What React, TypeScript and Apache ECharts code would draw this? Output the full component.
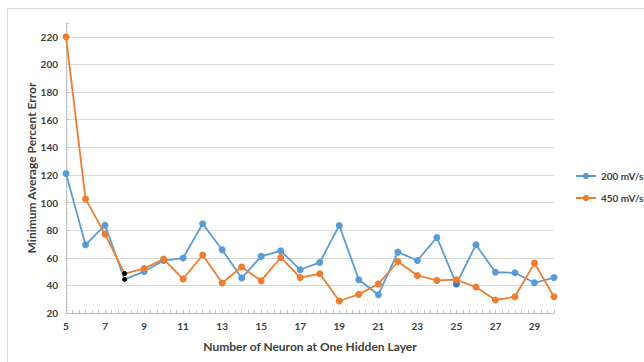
import React, { useEffect, useRef } from "react";
import * as echarts from "echarts";

const neurons = [5, 6, 7, 8, 9, 10, 11, 12, 13, 14, 15, 16, 17, 18, 19, 20, 21, 22, 23, 24, 25, 26, 27, 28, 29, 30];
const series200 = [121, 69.4, 83.6, 44.3, 50, 58, 59.8, 84.6, 65.8, 45.3, 61, 65, 51.3, 56.6, 83.4, 44.1, 33.2, 64.1, 58, 74.7, 41, 69.4, 49.5, 49.1, 41.9, 45.7];
const series450 = [220, 102.6, 77.1, 48.6, 52.2, 59, 44.6, 62, 41.7, 53.3, 43.4, 60.2, 45.7, 48.4, 28.7, 33.5, 41, 57.3, 47.2, 43.6, 44.1, 38.8, 29.4, 31.8, 56.1, 31.8];
const seriesNames = ["200 mV/s", "450 mV/s"];
const highlighted = [8];

const FONT = "Lato, 'Open Sans', sans-serif";
const TXT = "#404040";

function build(values: number[], special: (x: number) => any) {
  return neurons.map((x, i) => {
    const s = special(x);
    return s ? { value: [x, values[i]], ...s } : [x, values[i]];
  });
}

export default function App() {
  const ref = useRef<HTMLDivElement>(null);
  useEffect(() => {
    const chart = echarts.init(ref.current!, null, { renderer: "svg" });
    chart.setOption({
      animation: false,
      textStyle: { fontFamily: FONT },
      graphic: [
        {
          type: "rect",
          shape: { x: 7.5, y: 8.5, width: 700, height: 400 },
          style: { fill: "none", stroke: "#d9d9d9", lineWidth: 1 },
          silent: true,
        },
      ],
      grid: { left: 66, right: 90, top: 23, bottom: 49 },
      legend: {
        orient: "vertical",
        left: 575,
        top: 171,
        padding: 0,
        itemWidth: 20,
        itemHeight: 8,
        itemGap: 12,
        textStyle: { fontFamily: FONT, fontSize: 10, color: TXT, fontWeight: "bold" },
        data: seriesNames,
      },
      xAxis: {
        type: "value",
        min: 5,
        max: 30,
        interval: 2,
        name: "Number of Neuron at One Hidden Layer",
        nameLocation: "middle",
        nameGap: 27,
        nameMoveOverlap: false,
        nameTextStyle: { fontFamily: FONT, fontSize: 12, fontWeight: "bold", color: TXT },
        axisLine: { show: true, lineStyle: { color: "#bfbfbf", width: 1 } },
        axisTick: { show: true, inside: true, length: 3, lineStyle: { color: "#bfbfbf" } },
        minorTick: { show: true, splitNumber: 6, length: 3, lineStyle: { color: "#bfbfbf" } },
        splitLine: { show: false },
        axisLabel: {
          showMaxLabel: false,
          margin: 8,
          fontFamily: FONT,
          fontSize: 10,
          fontWeight: "bold",
          color: TXT,
        },
      },
      yAxis: {
        type: "value",
        min: 20,
        max: 230,
        interval: 20,
        name: "Minimum Average Percent Error",
        nameLocation: "middle",
        nameGap: 29,
        nameMoveOverlap: false,
        nameTextStyle: { fontFamily: FONT, fontSize: 12, fontWeight: "bold", color: TXT },
        axisLine: { show: true, lineStyle: { color: "#bfbfbf", width: 1 } },
        axisTick: { show: true, inside: true, length: 3, lineStyle: { color: "#bfbfbf" } },
        minorTick: { show: true, splitNumber: 10, length: 2, lineStyle: { color: "#cfcfcf" } },
        splitLine: { show: true, showMaxLine: false, showMinLine: false, lineStyle: { color: "#d9d9d9", width: 1 } },
        axisLabel: {
          showMaxLabel: false,
          margin: 8,
          fontFamily: FONT,
          fontSize: 10,
          fontWeight: "bold",
          color: TXT,
        },
      },
      series: [
        {
          name: seriesNames[0],
          type: "line",
          symbol: "circle",
          symbolSize: 7,
          color: "#5b9bd5",
          lineStyle: { width: 1.8, color: "#5b9bd5" },
          data: build(series200, (x) =>
            highlighted.includes(x)
              ? { symbolSize: 5, itemStyle: { color: "#000" } }
              : x === 25
              ? { itemStyle: { color: "#3a78c0" } }
              : null
          ),
        },
        {
          name: seriesNames[1],
          type: "line",
          symbol: "circle",
          symbolSize: 7,
          color: "#ed7d31",
          lineStyle: { width: 1.8, color: "#ed7d31" },
          data: build(series450, (x) =>
            highlighted.includes(x) ? { symbolSize: 5, itemStyle: { color: "#000" } } : null
          ),
        },
      ],
    });
    return () => chart.dispose();
  }, []);
  return (
    <div
      ref={ref}
      style={{ position: "fixed", left: 0, top: 0, width: 644, height: 362, background: "#fff" }}
    />
  );
}
